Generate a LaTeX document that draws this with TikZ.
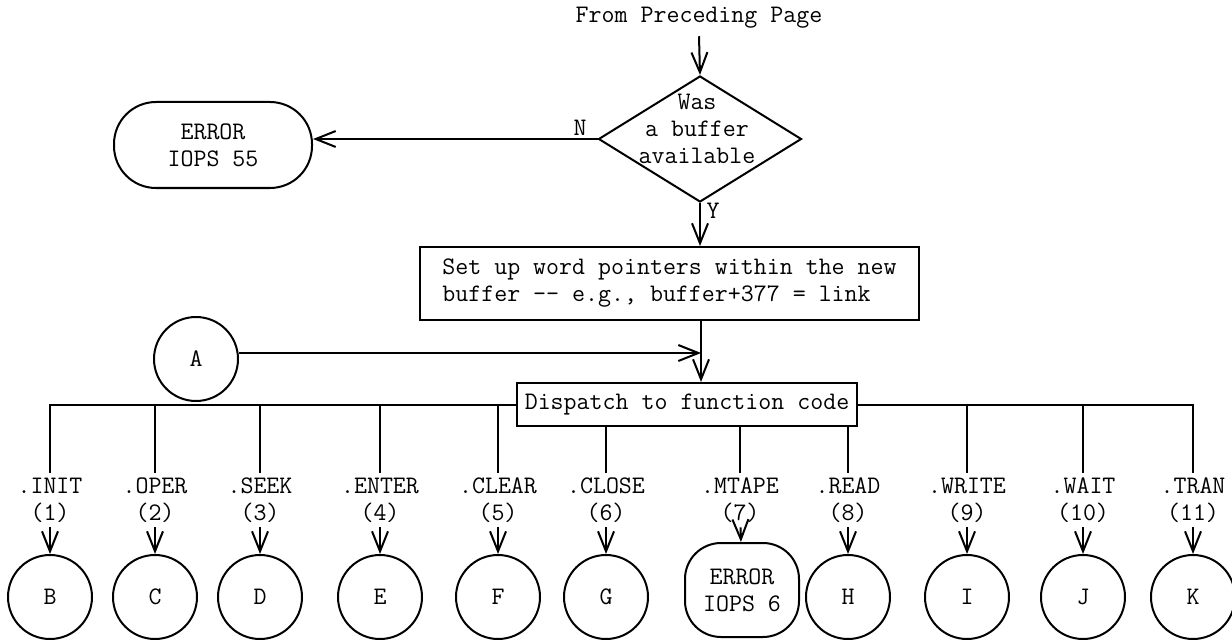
\documentclass[tikz,border=0pt]{standalone}
\usetikzlibrary{shapes.geometric,arrows.meta}
\newcommand{\flowfont}{\fontsize{12.6}{13.5}\selectfont\ttfamily}
\begin{document}
\begin{tikzpicture}[x=0.5pt,y=-0.5pt,line width=1pt,
    >={Straight Barb[length=10pt,width=8pt]},
    every node/.style={font=\flowfont},
    decision/.style={draw,diamond,inner sep=0pt,minimum width=101.5pt,minimum height=63pt},
    process/.style={draw,rectangle,align=left},
    terminal/.style={draw,rectangle,rounded corners=#1,align=center,inner sep=0pt},
    conn/.style={draw,circle,inner sep=0pt,minimum size=42pt},
    lbl/.style={align=center,inner sep=2pt}]
  \useasboundingbox (0,0) rectangle (1232,642);
  \node (from) at (699,18) {From Preceding Page};
  \node[decision] (avail) at (700,139) {};
  \node[align=center] (availtxt) at (697,129) {Was\\a buffer\\available};
  \node[terminal=21pt,minimum width=99pt,minimum height=43pt] (err55) at (213,145) {ERROR\\IOPS 55};
  \node (lblN) at (580,128) {N};
  \node (lblY) at (713,211) {Y};
  \node[process,minimum width=249.5pt,minimum height=36.5pt] (setup) at (669.5,283.5)
    {Set up word pointers within the new\\buffer -{}- e.g., buffer+377 = link};
  \node[conn] (conA) at (196,359) {A};
  \coordinate (join) at (701,353);
  \node[draw,inner xsep=2pt,minimum width=170pt,minimum height=21.5pt] (dispatch) at (687,404.5)
    {Dispatch to function code};
  \draw[->] (from.south) -- (avail.north);
  \draw[->] (avail.west) -- (avail.west -| err55.east);
  \draw[->] (avail.south) -- (avail.south |- setup.north);
  \draw[->] (setup.south -| join) -- (dispatch.north -| join);
  \draw[->] (conA.east |- join) -- (join);
  \foreach \x/\fn/\n/\c in {50/INIT/1/B,155/OPER/2/C,260/SEEK/3/D,380/ENTER/4/E,
      498/CLEAR/5/F,606/CLOSE/6/G,848/READ/8/H,967/WRITE/9/I,1083/WAIT/10/J,1193/TRAN/11/K} {
    \node[lbl] (fn\n) at (\x,500) {.\fn\\(\n)};
    \node[conn] (c\c) at (\x,597) {\c};
    \draw[->] (fn\n) -- (c\c);
  }
  \node[lbl] (fn7) at (740,500) {.MTAPE\\(7)};
  \node[terminal=18pt,minimum width=57pt,minimum height=47pt] (err6) at (742,590) {ERROR\\IOPS 6};
  \draw[->] (fn7) -- (err6);
  \draw (fn1.north) |- (dispatch.west);
  \draw (fn11.north) |- (dispatch.east);
  \foreach \n in {2,3,4,5,9,10}
    \draw (fn\n.north) -- (fn\n.north |- dispatch.west);
  \foreach \n in {6,7,8}
    \draw (fn\n.north) -- (fn\n.north |- dispatch.south);
\end{tikzpicture}
\end{document}
